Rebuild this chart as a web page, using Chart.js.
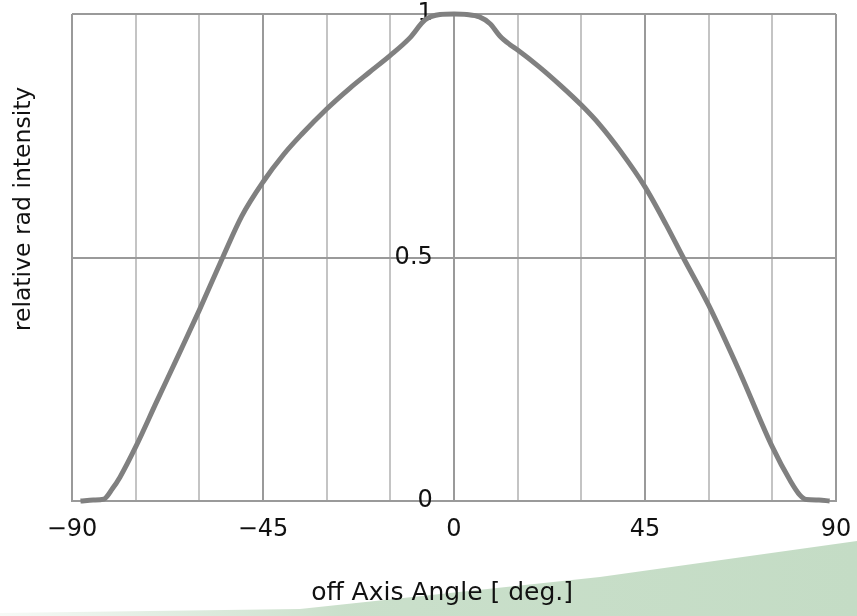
<!DOCTYPE html>
<html>
<head>
<meta charset="utf-8">
<script src="https://cdn.jsdelivr.net/npm/chart.js@4/dist/chart.umd.min.js"></script>
<style>
  html, body { margin: 0; padding: 0; background: #ffffff; }
  #wrap { width: 857px; height: 616px; }
</style>
</head>
<body>
<div id="wrap"><canvas id="c" width="857" height="616"></canvas></div>
<script>
// ---- data ----
const angles = [-88, -85, -82.5, -80.5, -78.7, -75, -70, -65, -60, -54.5, -50, -45, -40, -36, -30, -24.5, -20, -15, -10.4, -6.8, -3.3, 0, 3, 6, 8.5, 10.8, 13.2, 15, 20, 25, 30, 34.4, 39, 45, 50, 54, 60, 67.4, 75, 79.2, 81.5, 83, 86, 88.5];
const intensity = [0, 0.002, 0.004, 0.025, 0.049, 0.111, 0.205, 0.298, 0.392, 0.5, 0.585, 0.655, 0.713, 0.752, 0.805, 0.848, 0.88, 0.915, 0.951, 0.988, 0.999, 1.0, 0.999, 0.994, 0.98, 0.955, 0.937, 0.926, 0.892, 0.854, 0.813, 0.772, 0.721, 0.645, 0.567, 0.5, 0.402, 0.263, 0.111, 0.042, 0.012, 0.003, 0.002, 0];
const xTickLabels = [-90, -45, 0, 45, 90];
const yTickLabels = [0, 0.5, 1];
const xTitle = 'off Axis Angle [ deg.]';
const yTitle = 'relative rad intensity';

const FONT = 'DejaVu Sans';
const MAJOR = '#9a9a9a';
const MINOR = '#c4c4c4';

const points = angles.map((a, i) => ({ x: a, y: intensity[i] }));

const noPad = (s) => { s.paddingTop = 0; s.paddingBottom = 0; s.paddingLeft = 0; s.paddingRight = 0; };

const bgPlugin = {
  id: 'bg',
  beforeDraw(chart) {
    const ctx = chart.ctx, w = chart.width, h = chart.height;
    ctx.save();
    ctx.fillStyle = '#ffffff';
    ctx.fillRect(0, 0, w, h);
    const g = ctx.createLinearGradient(0, 0, w, 0);
    g.addColorStop(0, 'rgba(196,220,197,0.15)');
    g.addColorStop(0.4, 'rgba(196,220,197,0.9)');
    g.addColorStop(1, 'rgba(196,220,197,1)');
    ctx.fillStyle = g;
    ctx.beginPath();
    ctx.moveTo(0, h);
    ctx.lineTo(0, h - 3);
    ctx.lineTo(w * 0.35, h - 7);
    ctx.lineTo(w * 0.525, h - 23);
    ctx.lineTo(w * 0.70, h - 39);
    ctx.lineTo(w, h - 75);
    ctx.lineTo(w, h);
    ctx.closePath();
    ctx.fill();
    ctx.restore();
  }
};

new Chart(document.getElementById('c'), {
  type: 'line',
  data: {
    datasets: [{
      data: points,
      borderColor: '#808080',
      borderWidth: 5,
      pointRadius: 0,
      fill: false,
      cubicInterpolationMode: 'monotone',
      clip: false
    }]
  },
  options: {
    responsive: false,
    animation: false,
    layout: { padding: { top: 14, right: 21, left: 0, bottom: 0 } },
    plugins: { legend: { display: false }, tooltip: { enabled: false } },
    scales: {
      x: {
        type: 'linear',
        position: 'bottom',
        min: -90,
        max: 90,
        ticks: {
          stepSize: 15,
          autoSkip: false,
          maxRotation: 0,
          padding: 14,
          color: '#111111',
          font: { family: FONT, size: 24 },
          callback: (v) => xTickLabels.includes(v) ? (v < 0 ? '\u2212' + Math.abs(v) : String(v)) : ''
        },
        grid: {
          drawTicks: false,
          lineWidth: 2,
          color: (c) => (c.tick && c.tick.value % 45 === 0) ? MAJOR : MINOR
        },
        border: { display: true, color: MAJOR, width: 2 },
        title: {
          display: true,
          text: xTitle + '   ',
          color: '#111111',
          font: { family: FONT, size: 25 },
          padding: { top: 0, bottom: 8 }
        },
        afterFit: (s) => { noPad(s); s.height = 115; }
      },
      y: {
        type: 'linear',
        position: { x: -5 },
        min: 0,
        max: 1,
        afterBuildTicks: (s) => { s.ticks = yTickLabels.map(v => ({ value: v })); },
        ticks: {
          padding: 0,
          color: '#111111',
          font: { family: FONT, size: 24 },
          callback: (v) => String(v)
        },
        grid: {
          drawTicks: false,
          lineWidth: 2,
          color: MAJOR
        },
        border: { display: false },
        afterFit: noPad
      },
      yTitle: {
        type: 'linear',
        position: 'left',
        min: 0,
        max: 1,
        ticks: { display: false },
        grid: { display: false, drawOnChartArea: false, drawTicks: false },
        border: { display: false },
        title: {
          display: true,
          text: '             ' + yTitle,
          color: '#111111',
          font: { family: FONT, size: 23.5 },
          padding: { top: 10, bottom: 0 }
        },
        afterFit: (s) => { noPad(s); s.width = 72; }
      }
    }
  },
  plugins: [bgPlugin]
});
</script>
</body>
</html>
